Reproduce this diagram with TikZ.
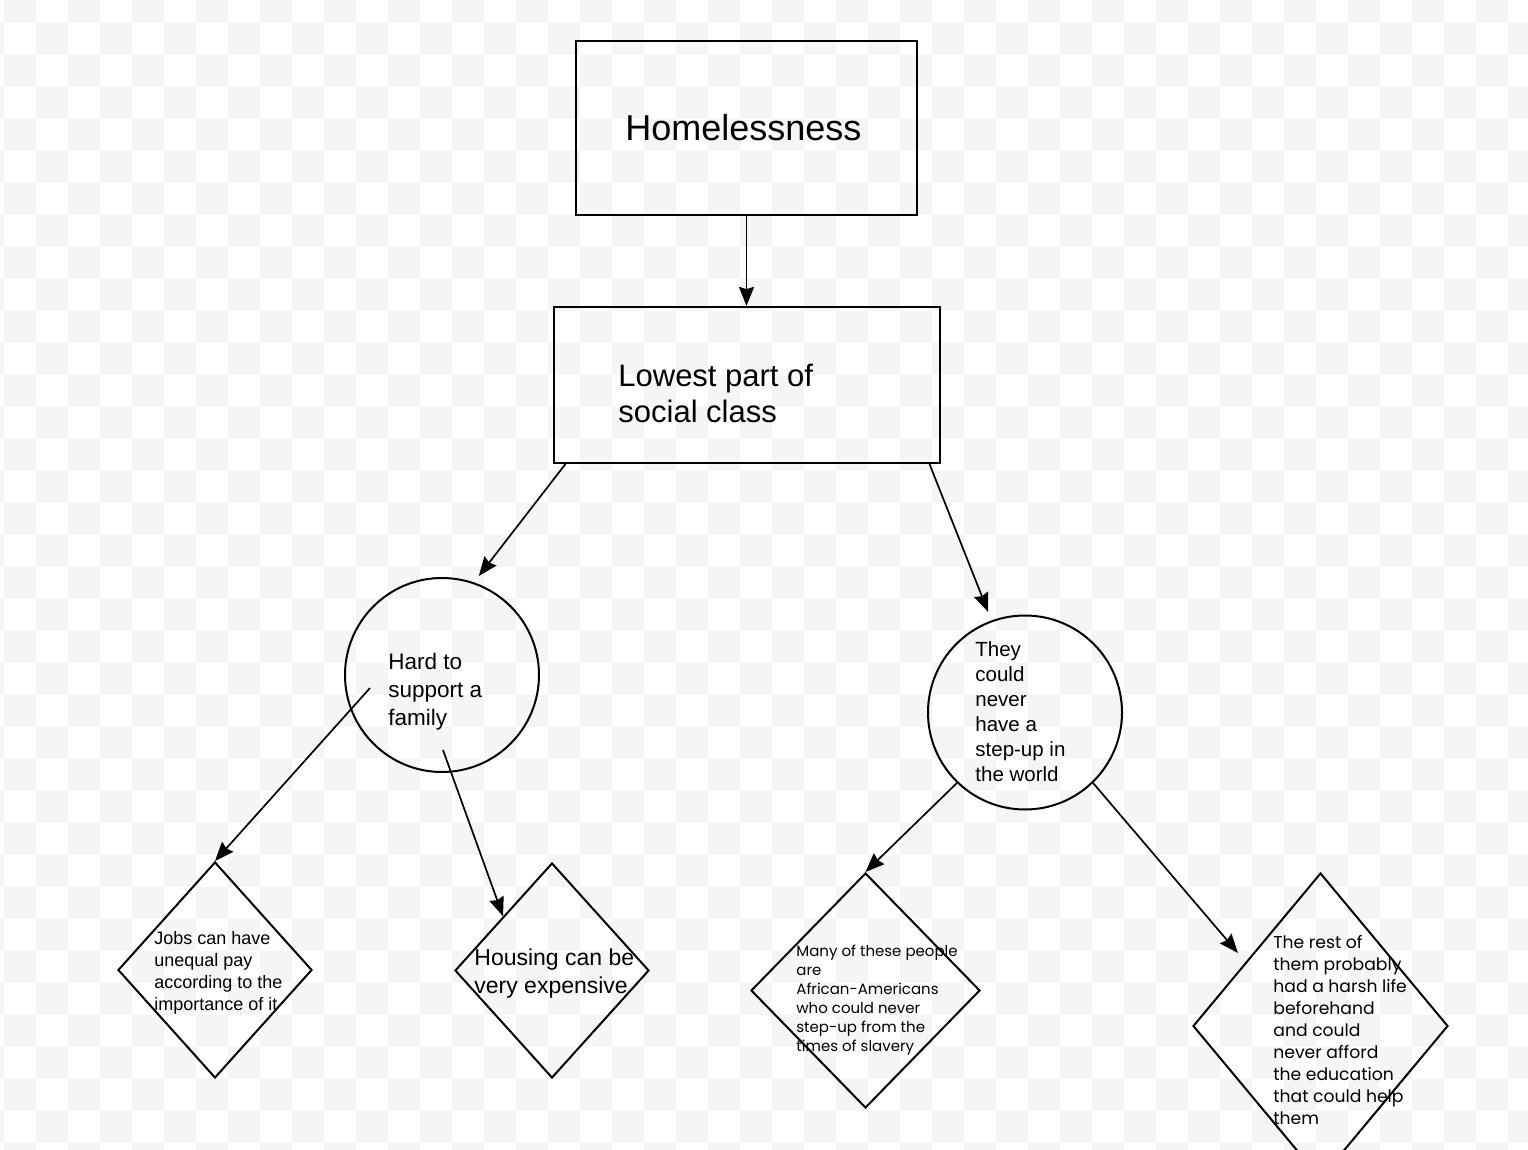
\documentclass[tikz,border=0pt]{standalone}
\usepackage{fontspec}
\setmainfont{Liberation Sans}
\newfontfamily\popfont{Poppins}
\usetikzlibrary{positioning,arrows.meta,shapes.geometric}
\definecolor{claro}{HTML}{F5F5F5}

\begin{document}
\begin{tikzpicture}[x=0.5pt,y=-0.5pt,
        b/.style={draw,line width=1pt,inner sep=0pt},
        c/.style={draw,circle,line width=1pt,inner sep=0pt,minimum size=97pt},
        d/.style={draw,diamond,line width=1pt,inner sep=0pt},
        t/.style={anchor=base west,align=left,inner sep=0pt},
        f/.style={-{Stealth[length=9.5pt,width=7.5pt,inset=1pt]},line width=0.85pt}]
        \useasboundingbox (0,0) rectangle (1528,1150);
        \clip (0,0) rectangle (1528,1150);
        % fondo a cuadros
        \foreach \i in {-2,0,...,46}
          \foreach \j in {0,2,...,36} {
            \fill[claro] (4+32*\i,-9.3+32*\j) rectangle ++(32,32);
            \fill[claro] (36+32*\i,22.7+32*\j) rectangle ++(32,32);
          }
        % cajas (texto anclado en la base de la ultima linea)
        \node[b,minimum width=170.5pt,minimum height=87pt] (home) at (746.5,128) {};
        \node[b,minimum width=193pt,minimum height=78pt,below=45pt of home] (low) {};
        \node[t,font=\fontsize{18pt}{18pt}\selectfont] (homet) at (625,141) {Homelessness};
        \node[t,font=\fontsize{15.5pt}{18pt}\selectfont] (lowt) at (618,423) {Lowest part of\\social class};
        % circulos
        \node[c] (hard) at (442,675) {};
        \node[t,font=\fontsize{11.25pt}{14pt}\selectfont] (hardt) at (388,725) {Hard to\\support a\\family};
        \node[c] (never) at (1025,712.5) {};
        \node[t,font=\fontsize{10.25pt}{12.5pt}\selectfont] (nevert) at (975,781.5)
          {They\\could\\never\\have a\\step-up in\\the world};
        % rombos
        \node[d,minimum width=97pt,minimum height=108pt] (jobs) at (215,970) {};
        \node[t,font=\fontsize{9pt}{11pt}\selectfont] (jobst) at (154,1010)
          {Jobs can have\\unequal pay\\according to the\\importance of it};
        \node[d,minimum width=97pt,minimum height=107.5pt] (housing) at (552,970.5) {};
        \node[t,font=\fontsize{11.5pt}{14pt}\selectfont] (housingt) at (474,993) {Housing can be\\very expensive};
        \node[d,minimum width=114.5pt,minimum height=117.5pt] (many) at (865.5,990.5) {};
        \node[t,font=\popfont\fontsize{7.5pt}{9.5pt}\selectfont] (manyt) at (796,1051.5)
          {Many of these people\\are\\African-Americans\\who could never\\step-up from the\\times of slavery};
        \node[d,minimum width=127.5pt,minimum height=153pt] (rest) at (1320.5,1026) {};
        \node[t,font=\popfont\fontsize{8.6pt}{11pt}\selectfont] (restt) at (1273,1124)
          {The rest of\\them probably\\had a harsh life\\beforehand\\and could\\never afford\\the education\\that could help\\them};
        % flechas
        \coordinate (hardA) at (370,688);
        \coordinate (hardB) at (443,750);
        \coordinate (restA) at (1238,953);
        \draw[f] (home.south) -- (low.north);
        \draw[f,shorten >=4pt] ([xshift=6.5pt]low.south west) -- (hard.71);
        \draw[f,shorten >=4.5pt] ([xshift=-5.5pt]low.south east) -- (never.110);
        \draw[f] (hardA) -- (jobs.north);
        \draw[f] (hardB) -- (housing.north west);
        \draw[f] (never.226) -- (many.north);
        \draw[f] (never.314) -- (restA);
      \end{tikzpicture}
\end{document}
